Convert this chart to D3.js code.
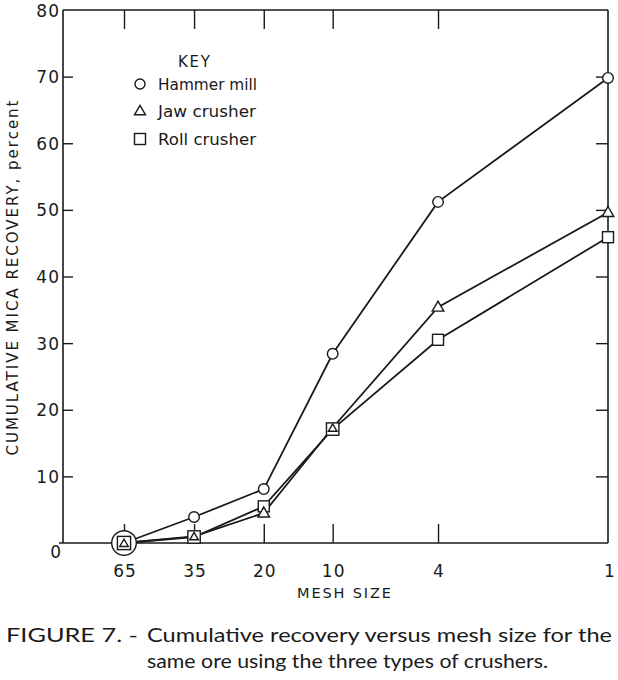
<!DOCTYPE html>
<html>
<head>
<meta charset="utf-8">
<script src="https://cdn.jsdelivr.net/npm/d3@7"></script>
<style>
  html, body { margin: 0; padding: 0; background: #fff; }
  svg { display: block; }
</style>
</head>
<body>
<svg id="chart" width="618" height="680"></svg>
<script>
// ---- data ----
const meshLabels = ["65", "35", "20", "10", "4", "1"];
const meshOpeningMm = [0.208, 0.417, 0.833, 1.651, 4.699, 25.4];
const hammerMill = [0, 3.9, 8.1, 28.4, 51.2, 69.8];
const jawCrusher = [0, 1.0, 4.5, 17.3, 35.4, 49.6];
const rollCrusher = [0, 0.9, 5.5, 17.1, 30.5, 45.9];
const yTicks = [0, 10, 20, 30, 40, 50, 60, 70, 80];
const seriesNames = ["Hammer mill", "Jaw crusher", "Roll crusher"];

// ---- layout ----
const svg = d3.select("#chart");
const axL = 63, axR = 608, axT = 10, axB = 543;
const ink = "#1a1a1a";
const font = "'DejaVu Sans', 'Liberation Sans', sans-serif";

const x = d3.scaleLog().domain([meshOpeningMm[0], meshOpeningMm[meshOpeningMm.length - 1]]).range([124, 608]);
const y = d3.scaleLinear().domain([0, 80]).range([axB, axT]);

// frame
const g = svg.append("g");
g.append("line").attr("x1", 59).attr("x2", axR).attr("y1", axB).attr("y2", axB).attr("stroke", ink).attr("stroke-width", 1.6);
g.append("line").attr("x1", axL).attr("x2", axL).attr("y1", axT).attr("y2", axB).attr("stroke", ink).attr("stroke-width", 1.6);
g.append("line").attr("x1", axL).attr("x2", axR).attr("y1", axT).attr("y2", axT).attr("stroke", ink).attr("stroke-width", 1.6);
g.append("line").attr("x1", axR).attr("x2", axR).attr("y1", axT).attr("y2", axB).attr("stroke", ink).attr("stroke-width", 1.6);

// left axis (ticks inward)
const yAxis = d3.axisRight(y).tickValues(yTicks.filter(v => v > 0 && v < 80)).tickSize(10).tickFormat("");
const ya = g.append("g").attr("transform", `translate(${axL},0)`).call(yAxis);
ya.select(".domain").remove();
ya.selectAll("line").attr("stroke", ink).attr("stroke-width", 1.4);

// right axis (ticks inward)
const yAxisR = d3.axisLeft(y).tickValues(yTicks.filter(v => v > 0 && v < 80)).tickSize(12).tickFormat("");
const yr = g.append("g").attr("transform", `translate(${axR},0)`).call(yAxisR);
yr.select(".domain").remove();
yr.selectAll("line").attr("stroke", ink).attr("stroke-width", 1.4);

// y tick labels
g.selectAll(".ylab").data(yTicks).join("text")
  .attr("x", d => d === 0 ? 62 : 60)
  .attr("y", d => y(d) + (d === 0 ? 15 : 6.5))
  .attr("text-anchor", "end")
  .attr("font-family", font).attr("font-size", 17).attr("letter-spacing", 1)
  .attr("fill", ink)
  .text(d => d);

// bottom axis ticks (inward)
const xAxisB = d3.axisTop(x).tickValues(meshOpeningMm.slice(0, 5)).tickSize(19).tickFormat("");
const xb = g.append("g").attr("transform", `translate(0,${axB})`).call(xAxisB);
xb.select(".domain").remove();
xb.selectAll("line").attr("stroke", ink).attr("stroke-width", 1.4);

// top axis ticks (inward)
const xAxisT = d3.axisBottom(x).tickValues(meshOpeningMm.slice(0, 5)).tickSize(19).tickFormat("");
const xt = g.append("g").attr("transform", `translate(0,${axT})`).call(xAxisT);
xt.select(".domain").remove();
xt.selectAll("line").attr("stroke", ink).attr("stroke-width", 1.4);

// x labels
g.selectAll(".xlab").data(meshLabels).join("text")
  .attr("x", (d, i) => x(meshOpeningMm[i]) + (d === "1" ? 2 : 1))
  .attr("y", 577)
  .attr("text-anchor", "middle")
  .attr("font-family", font).attr("font-size", 17).attr("letter-spacing", 1)
  .attr("fill", ink)
  .text(d => d);

// axis titles
g.append("text").attr("x", 344).attr("y", 598).attr("text-anchor", "middle")
  .attr("font-family", font).attr("font-size", 14.5).attr("fill", ink)
  .attr("textLength", 94).attr("lengthAdjust", "spacing")
  .text("MESH SIZE");
g.append("text").attr("transform", "translate(18,278) rotate(-90)").attr("text-anchor", "middle")
  .attr("font-family", font).attr("font-size", 15).attr("fill", ink)
  .attr("textLength", 355).attr("lengthAdjust", "spacing")
  .text("CUMULATIVE MICA RECOVERY, percent");

// ---- series ----
const series = [
  { name: seriesNames[0], values: hammerMill, shape: "circle" },
  { name: seriesNames[1], values: jawCrusher, shape: "triangle" },
  { name: seriesNames[2], values: rollCrusher, shape: "square" }
];
const line = d3.line().x((d, i) => x(meshOpeningMm[i])).y(d => y(d));
series.forEach(s => {
  g.append("path").datum(s.values).attr("d", line)
    .attr("fill", "none").attr("stroke", ink).attr("stroke-width", 1.8);
});

function drawMarker(sel, shape, cx, cy, size) {
  if (shape === "circle") {
    sel.append("circle").attr("cx", cx).attr("cy", cy).attr("r", size)
      .attr("fill", "#fff").attr("stroke", ink).attr("stroke-width", 1.4);
  } else if (shape === "square") {
    sel.append("rect").attr("x", cx - size).attr("y", cy - size).attr("width", 2 * size).attr("height", 2 * size)
      .attr("fill", "#fff").attr("stroke", ink).attr("stroke-width", 1.4);
  } else {
    const h = size * 1.73;
    sel.append("path")
      .attr("d", `M${cx},${cy - h * 0.6}L${cx + size},${cy + h * 0.4}L${cx - size},${cy + h * 0.4}Z`)
      .attr("fill", "#fff").attr("stroke", ink).attr("stroke-width", 1.4);
  }
}

const markers = g.append("g");
meshOpeningMm.forEach((m, i) => {
  const cx = x(m);
  const hv = hammerMill[i], jv = jawCrusher[i], rv = rollCrusher[i];
  const allSame = Math.abs(hv - jv) < 0.6 && Math.abs(hv - rv) < 0.6;
  const jrSame = Math.abs(jv - rv) < 0.6;
  drawMarker(markers, "circle", cx, y(hv), allSame ? 12.3 : 5.3);
  drawMarker(markers, "square", cx, y(rv), allSame ? 6.6 : (jrSame ? 6.2 : 5.5));
  drawMarker(markers, "triangle", cx, y(jv) + (jrSame ? 0.5 : 0), jrSame ? 4.3 : 5.8);
});

// ---- legend ----
const lg = g.append("g");
lg.append("text").attr("x", 178).attr("y", 67).attr("font-family", font).attr("font-size", 15)
  .attr("fill", ink).attr("textLength", 32).attr("lengthAdjust", "spacing").text("KEY");
const legendShapes = ["circle", "triangle", "square"];
const legendY = [84, 111, 139];
const legendW = [99, 98, 98];
seriesNames.forEach((n, i) => {
  drawMarker(lg, legendShapes[i], 140, legendY[i], legendShapes[i] === "circle" ? 5 : 5.5);
  lg.append("text").attr("x", 158).attr("y", legendY[i] + 5.5).attr("font-family", font).attr("font-size", 15)
    .attr("fill", ink).attr("textLength", legendW[i]).attr("lengthAdjust", "spacingAndGlyphs").text(n);
});

// ---- caption ----
const capFont = "'Lato', 'Open Sans', sans-serif";
svg.append("text").attr("x", 6).attr("y", 642).attr("font-family", capFont).attr("font-size", 20)
  .attr("fill", ink).attr("textLength", 132).attr("lengthAdjust", "spacingAndGlyphs").text("FIGURE 7. -");
svg.append("text").attr("x", 147).attr("y", 642).attr("font-family", capFont).attr("font-size", 20)
  .attr("fill", ink).attr("textLength", 465).attr("lengthAdjust", "spacingAndGlyphs").text("Cumulative recovery versus mesh size for the");
svg.append("text").attr("x", 147).attr("y", 668).attr("font-family", capFont).attr("font-size", 20)
  .attr("fill", ink).attr("textLength", 401).attr("lengthAdjust", "spacingAndGlyphs").text("same ore using the three types of crushers.");
</script>
</body>
</html>
